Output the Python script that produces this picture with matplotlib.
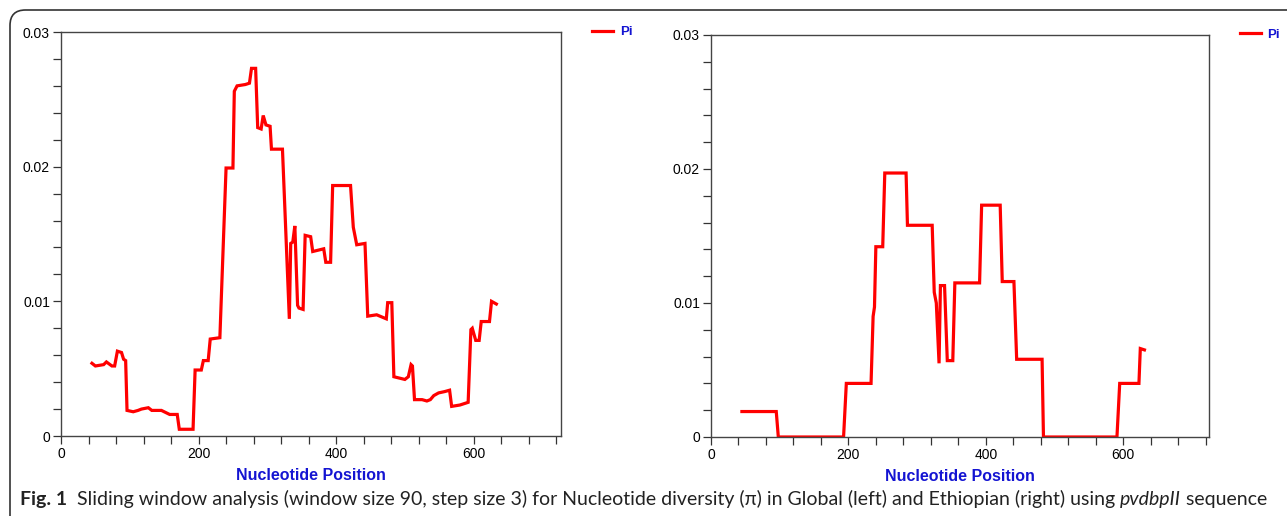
import matplotlib
matplotlib.use("Agg")
import matplotlib.pyplot as plt
from matplotlib.ticker import MultipleLocator, FuncFormatter
from matplotlib.patches import FancyBboxPatch

# --- data ---
# Global (left panel)
global_pos = [45, 50, 62, 66, 74, 78, 82, 88, 91, 94,
              96, 105, 112, 117, 127, 132, 146, 154, 158, 169,
              172, 192, 195, 204, 207, 214, 217, 231, 240, 250,
              252, 256, 268, 274, 277, 283, 286, 291, 294, 298,
              304, 306, 322, 332, 334, 337, 340, 344, 346, 352,
              355, 363, 366, 382, 385, 392, 395, 421, 425, 430,
              442, 446, 459, 473, 475, 481, 484, 500, 505, 509,
              511, 514, 525, 532, 537, 542, 549, 558, 565, 568,
              580, 592, 596, 598, 603, 608, 611, 623, 626, 633]
global_pi = [0.0054, 0.0052, 0.0053, 0.0055, 0.0052, 0.0052, 0.0063, 0.0062, 0.0057, 0.0056,
             0.0019, 0.0018, 0.0019, 0.0020, 0.0021, 0.0019, 0.0019, 0.0017, 0.0016, 0.0016,
             0.0005, 0.0005, 0.0049, 0.0049, 0.0056, 0.0056, 0.0072, 0.0073, 0.0199, 0.0199,
             0.0256, 0.0260, 0.0261, 0.0262, 0.0273, 0.0273, 0.0229, 0.0228, 0.0238, 0.0231,
             0.0230, 0.0213, 0.0213, 0.0087, 0.0143, 0.0144, 0.0156, 0.0097, 0.0095, 0.0094,
             0.0149, 0.0148, 0.0137, 0.0139, 0.0129, 0.0129, 0.0186, 0.0186, 0.0155, 0.0142,
             0.0143, 0.0089, 0.0090, 0.0087, 0.0099, 0.0099, 0.0044, 0.0042, 0.0044, 0.0053,
             0.0052, 0.0027, 0.0027, 0.0026, 0.0027, 0.0030, 0.0032, 0.0033, 0.0034, 0.0022,
             0.0023, 0.0025, 0.0079, 0.0080, 0.0071, 0.0071, 0.0085, 0.0085, 0.0100, 0.0098]

# Ethiopian (right panel)
eth_pos = [45, 95, 98, 193, 197, 233, 236, 238, 240, 250,
           253, 284, 286, 322, 325, 328, 332, 334, 340, 344,
           352, 355, 391, 394, 421, 424, 441, 445, 482, 484,
           591, 595, 623, 625, 631]
eth_pi = [0.0019, 0.0019, 0.0, 0.0, 0.0040, 0.0040, 0.0090, 0.0097, 0.0142, 0.0142,
          0.0197, 0.0197, 0.0158, 0.0158, 0.0108, 0.0100, 0.0055, 0.0113, 0.0113, 0.0057,
          0.0057, 0.0115, 0.0115, 0.0173, 0.0173, 0.0116, 0.0116, 0.0058, 0.0058, 0.0,
          0.0, 0.0040, 0.0040, 0.0066, 0.0065]

x_label = "Nucleotide Position"
series_name = "Pi"

plt.rcParams['font.family'] = ['Liberation Sans', 'DejaVu Sans']

fig = plt.figure(figsize=(12.87, 5.16), dpi=100)
W, H = 1287, 516

# rounded frame around the figure (open on the right)
frame = FancyBboxPatch((10 / W, -20 / H), 1.2, (H - 10 + 20) / H,
                       boxstyle="round,pad=0,rounding_size=0.012",
                       transform=fig.transFigure, fill=False,
                       edgecolor='#333333', linewidth=1.2, mutation_aspect=W / H)
fig.add_artist(frame)

panels = [
    # (x, y, left px, top px, right px, bottom px, xmax)
    (global_pos, global_pi, 61, 32, 561, 436, 727),
    (eth_pos, eth_pi, 711, 35, 1209, 437, 725),
]

for xs, ys, l, t, r, b, xmax in panels:
    ax = fig.add_axes([l / W, (H - b) / H, (r - l) / W, (b - t) / H])
    ax.plot(xs, ys, color='#ff0000', linewidth=2.3, label=series_name,
            solid_joinstyle='miter')
    ax.set_xlim(0, xmax)
    ax.set_ylim(0, 0.03)
    ax.xaxis.set_major_locator(MultipleLocator(200))
    ax.xaxis.set_minor_locator(MultipleLocator(40))
    ax.yaxis.set_major_locator(MultipleLocator(0.01))
    ax.yaxis.set_minor_locator(MultipleLocator(0.002))
    ax.yaxis.set_major_formatter(FuncFormatter(lambda v, p: '%g' % round(v, 3)))
    ax.tick_params(which='both', direction='out', length=6, width=0.9,
                   color='#333333', labelsize=10, pad=2)
    for s in ax.spines.values():
        s.set_color('#444444')
        s.set_linewidth(1.0)
    ax.set_xlabel(x_label, fontsize=11.5, fontweight='bold', color='#1414d2',
                  labelpad=5)
    ax.legend(loc='center left', bbox_to_anchor=(1.062, 1.0), frameon=False,
              handlelength=1.6, handletextpad=0.5, borderpad=0, borderaxespad=0,
              prop={'weight': 'bold', 'size': 9.5}, labelcolor='#1414d2')

# caption built from pieces so "Fig. 1" is bold and the gene name italic
cap_size = 14
cap_font = ['Lato', 'DejaVu Sans']
pieces = [
    ("Fig. 1", 'bold', 'normal'),
    ("  Sliding window analysis (window size 90, step size 3) for Nucleotide diversity (\u03c0) "
     "in Global (left) and Ethiopian (right) using ", 'normal', 'normal'),
    ("pvdbpII", 'normal', 'italic'),
    (" sequence", 'normal', 'normal'),
]
cap_texts = []
for txt, wt, st in pieces:
    cap_texts.append(fig.text(0, 0, txt, fontsize=cap_size, fontweight=wt,
                              fontstyle=st, family=cap_font, color='#222222',
                              va='baseline'))

# put the pieces one after another on a single line
fig.canvas.draw()
renderer = fig.canvas.get_renderer()
x0 = 20
for t in cap_texts:
    t.set_position((x0 / W, (H - 505) / H))
    x0 += t.get_window_extent(renderer).width

fig.savefig("out.png", dpi=100)
